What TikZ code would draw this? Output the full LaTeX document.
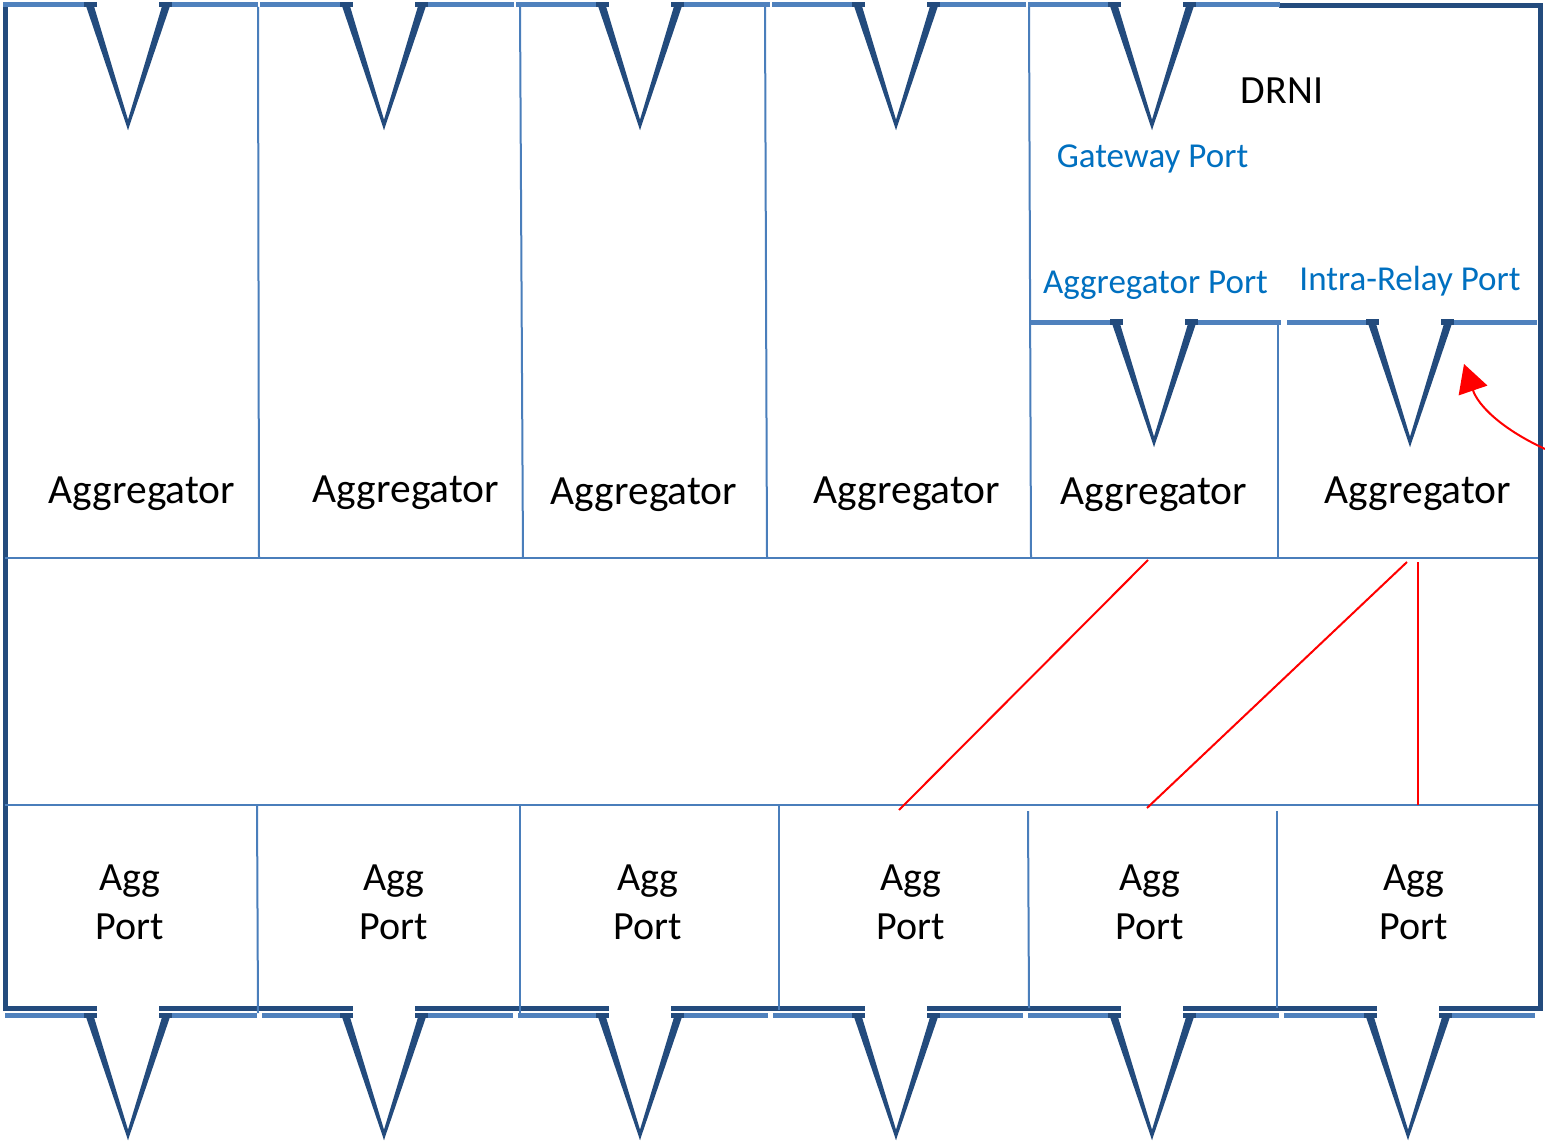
\documentclass[tikz,border=0pt]{standalone}
\usepackage{fontspec}
\setmainfont{Carlito}
\usetikzlibrary{arrows.meta}
\definecolor{darkb}{RGB}{35,75,125}
\definecolor{lightb}{RGB}{79,129,189}
\definecolor{thinb}{RGB}{74,126,187}
\definecolor{txtb}{RGB}{0,112,192}
\definecolor{redl}{RGB}{255,0,0}
\tikzset{
  framel/.style={draw=darkb,line width=5pt},
  barl/.style={draw=lightb,line width=5pt},
  divl/.style={draw=thinb,line width=2pt},
  redline/.style={draw=redl,line width=2pt},
  bigtxt/.style={inner sep=0pt,font=\fontsize{40}{49}\selectfont,text=black},
  aggtxt/.style={inner sep=0pt,font=\fontsize{41.5}{49}\selectfont,text=black},
  porttxt/.style={inner sep=0pt,font=\fontsize{40}{49}\selectfont,text=black,align=center},
  bluetxt/.style={inner sep=0pt,font=\fontsize{35}{40}\selectfont,text=txtb},
}
% port symbol: #1 = centre x, #2 = top y, #3 = tip y, #4 #5 = bar extent
\newcommand{\portsym}[5]{%
  \draw[barl] (#4,#2) -- ({#1-31},#2);
  \draw[barl] ({#1+31},#2) -- (#5,#2);
  \fill[darkb] ({#1-42.5},#2) -- ({#1-34.5},#2) -- ({#1+0.4},{#3-9}) -- (#1,#3) -- cycle;
  \fill[darkb] ({#1+42.5},#2) -- ({#1+34.5},#2) -- ({#1-0.4},{#3-9}) -- (#1,#3) -- cycle;
  \fill[darkb] ({#1-44},{#2-2.8}) rectangle ({#1-31},{#2+2.8});
  \fill[darkb] ({#1+31},{#2-2.8}) rectangle ({#1+44},{#2+2.8});
}
\begin{document}
\begin{tikzpicture}[x=1pt,y=-1pt]
\useasboundingbox[fill=white] (0,0) rectangle (1545,1143);

% outer frame
\draw[framel,line join=miter] (1279,5) -- (1540,5) -- (1540,1008) -- (1439,1008);
\draw[framel,line join=miter] (5,3) -- (5,1008) -- (97,1008);
\foreach \a/\b in {159/353,415/609,671/865,927/1121,1183/1377}
  \draw[framel] (\a,1008) -- (\b,1008);

% inner thin lines
\draw[divl] (5,558) -- (1538,558);
\draw[divl] (5,805) -- (1538,805);
\draw[divl] (258,7) -- (259,558);
\draw[divl] (520,7) -- (523,558);
\draw[divl] (765,7) -- (767,558);
\draw[divl] (1029,7) -- (1031,558);
\draw[divl] (1278,324) -- (1278,558);
\draw[divl] (257,805) -- (258,1013);
\draw[divl] (520,805) -- (520,1013);
\draw[divl] (779,805) -- (779,1010);
\draw[divl] (1028,811) -- (1029,1008);
\draw[divl] (1277,811) -- (1277,1008);

% top ports
\portsym{128}{4.5}{130}{3}{258}
\portsym{384}{4.5}{130}{260}{514}
\portsym{640}{4.5}{130}{516}{770}
\portsym{896}{4.5}{130}{772}{1026}
\portsym{1152}{4.5}{130}{1028}{1280}
% inner ports (aggregator port, intra-relay port)
\portsym{1154}{322}{447}{1031}{1281}
\portsym{1410}{322}{447}{1287}{1537}
% bottom ports
\portsym{128}{1015.5}{1140}{5}{257}
\portsym{384}{1015.5}{1140}{262}{513}
\portsym{640}{1015.5}{1140}{518}{768}
\portsym{896}{1015.5}{1140}{773}{1023}
\portsym{1152}{1015.5}{1140}{1028}{1279}
\portsym{1408}{1015.5}{1140}{1284}{1535}

% texts
\node[bigtxt,anchor=base] (drni) at (1282,103) {DRNI};
\node[bluetxt,anchor=base] (gw) at (1152.5,167) {Gateway Port};
\node[bluetxt,anchor=base] (ap) at (1155.5,293.5) {Aggregator Port};
\node[bluetxt,anchor=base] (irp) at (1410,290.2) {Intra-Relay Port};

\node[aggtxt,anchor=base] (ag1) at (142,503) {Aggregator};
\node[aggtxt,anchor=base] (ag2) at (406,502) {Aggregator};
\node[aggtxt,anchor=base] (ag3) at (644,504) {Aggregator};
\node[aggtxt,anchor=base] (ag4) at (907,503) {Aggregator};
\node[aggtxt,anchor=base] (ag5) at (1154,504) {Aggregator};
\node[aggtxt,anchor=base] (ag6) at (1418,503) {Aggregator};

\node[porttxt] (p1) at (130,902.5) {Agg\\Port};
\node[porttxt] (p2) at (394,902.5) {Agg\\Port};
\node[porttxt] (p3) at (648,902.5) {Agg\\Port};
\node[porttxt] (p4) at (911,902.5) {Agg\\Port};
\node[porttxt] (p5) at (1150,902.5) {Agg\\Port};
\node[porttxt] (p6) at (1414,902.5) {Agg\\Port};

% red links
\coordinate (a5b) at (1148,560);
\coordinate (p4t) at (899,810);
\coordinate (a6b) at (1407,562);
\coordinate (p5t) at (1147,808);
\coordinate (a6v) at (1418,562);
\coordinate (p6t) at (1418,805);
\draw[redline] (a5b) -- (p4t);
\draw[redline] (a6b) -- (p5t);
\draw[redline] (a6v) -- (p6t);
\coordinate (arrS) at (1545,449);
\coordinate (arrE) at (1464,364);
\draw[redline,-{Triangle[length=28pt,width=30pt]}] (arrS) .. controls (1500,428) and (1478,405) .. (arrE);
\end{tikzpicture}
\end{document}
